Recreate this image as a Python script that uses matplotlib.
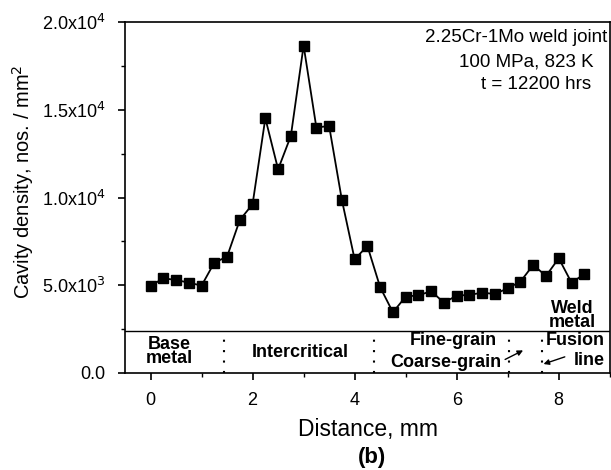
import matplotlib.pyplot as plt
from matplotlib.ticker import MultipleLocator, FuncFormatter

plt.rcParams['font.family'] = ['Liberation Sans', 'DejaVu Sans']

# 距離(mm)とキャビティ密度
distance = [0, 0.25, 0.5, 0.75, 1.0, 1.25, 1.5, 1.75, 2.0, 2.25, 2.5, 2.75, 3.0,
            3.25, 3.5, 3.75, 4.0, 4.25, 4.5, 4.75, 5.0, 5.25, 5.5, 5.75, 6.0,
            6.25, 6.5, 6.75, 7.0, 7.25, 7.5, 7.75, 8.0, 8.25, 8.5]
density = [4960, 5400, 5300, 5150, 4980, 6290, 6630, 8720, 9620, 14520, 11610,
           13510, 18660, 13990, 14080, 9860, 6480, 7240, 4890, 3460, 4350, 4430,
           4660, 4010, 4410, 4450, 4580, 4500, 4830, 5210, 6160, 5530, 6540,
           5150, 5630]

# 領域の境界
zone_bounds = [1.44, 4.37, 7.02, 7.67]
zone_line_y = 2400

fig = plt.figure(figsize=(6.11, 4.70), dpi=100)
ax = fig.add_axes([0.2046, 0.2064, 0.7934, 0.7466])

ax.plot(distance, density, '-s', color='black', lw=1.3, ms=7.5)

ax.axhline(zone_line_y, color='black', lw=1.0)
for xb in zone_bounds:
    ax.plot([xb, xb], [0, zone_line_y], color='black', lw=1.5, ls=(0, (1, 4)))

ax.set_xlim(-0.5, 9.0)
ax.set_ylim(0, 20000)
ax.xaxis.set_major_locator(MultipleLocator(2))
ax.xaxis.set_minor_locator(MultipleLocator(1))
ax.yaxis.set_major_locator(MultipleLocator(5000))
ax.yaxis.set_minor_locator(MultipleLocator(2500))


def yfmt(v, pos):
    if v == 0:
        return '0.0'
    e = 0
    m = v
    while m >= 10:
        m /= 10
        e += 1
    return '%.1fx10$^{%d}$' % (m, e)


ax.yaxis.set_major_formatter(FuncFormatter(yfmt))
ax.tick_params(axis='both', which='major', direction='out', length=5, width=1.2, labelsize=13)
ax.tick_params(axis='x', which='major', pad=9)
ax.tick_params(axis='y', which='major', pad=9)
ax.tick_params(axis='both', which='minor', direction='out', length=3, width=1.0)
for s in ax.spines.values():
    s.set_linewidth(1.2)

fig.text(0.6015, 0.087, 'Distance, mm', fontsize=16.5, ha='center', va='center')
fig.text(0.038, 0.613, 'Cavity density, nos. / mm$^2$', fontsize=14.5,
         rotation=90, ha='center', va='center')
fig.text(0.609, 0.026, '(b)', fontsize=16, fontweight='bold', ha='center', va='center')

# 条件
ax.text(8.96, 19100, '2.25Cr-1Mo weld joint', ha='right', va='center', fontsize=13.5)
ax.text(7.37, 17730, '100 MPa, 823 K', ha='center', va='center', fontsize=13.5)
ax.text(7.56, 16420, 't = 12200 hrs', ha='center', va='center', fontsize=13.5)

# 領域名
kw = dict(fontsize=13, fontweight='bold', ha='center', va='center', linespacing=0.8)
ax.text(0.37, 1215, 'Base\nmetal', **kw)
ax.text(2.93, 1140, 'Intercritical', **kw)
ax.text(5.93, 1880, 'Fine-grain', **kw)
ax.text(5.79, 570, 'Coarse-grain', **kw)
ax.text(8.27, 3270, 'Weld\nmetal', **kw)
ax.text(8.9, 1880, 'Fusion', fontsize=13, fontweight='bold', ha='right', va='center')
ax.text(8.9, 700, 'line', fontsize=13, fontweight='bold', ha='right', va='center')

ax.annotate('', xy=(7.35, 1360), xytext=(6.9, 700),
            arrowprops=dict(arrowstyle='-|>', color='black', lw=1.0, mutation_scale=8))
ax.annotate('', xy=(7.65, 460), xytext=(8.17, 970),
            arrowprops=dict(arrowstyle='-|>', color='black', lw=1.0, mutation_scale=8))

fig.savefig('out.png', dpi=100)
